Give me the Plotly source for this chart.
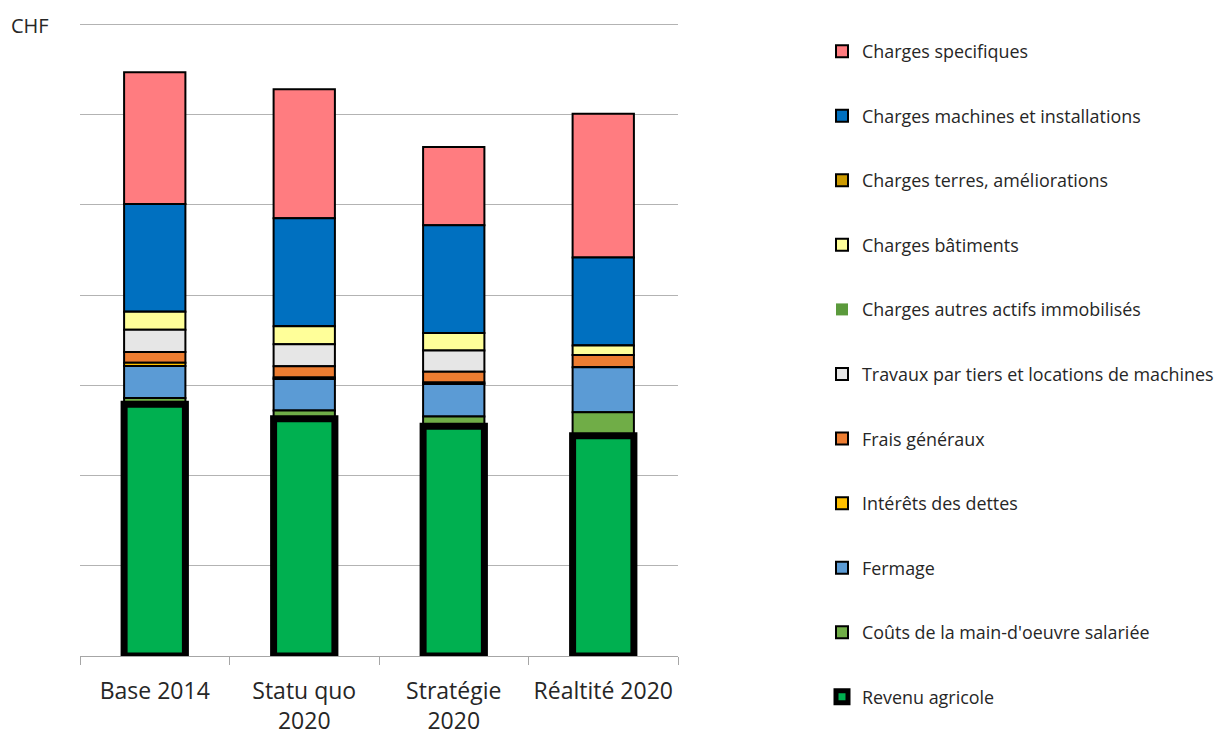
import numpy as np
import plotly.graph_objects as go

# Scenarios (x axis)
categories = ["Base 2014", "Statu quo<br>2020", "Stratégie<br>2020", "Réaltité 2020"]

# Cost components and farm income, in thousand CHF, listed from the bottom of each stack upward
revenu_agricole = [55.8, 52.6, 50.9, 48.8]
main_oeuvre = [1.4, 1.8, 2.2, 5.2]
fermage = [7.1, 7.0, 7.2, 10.0]
interets = [0.7, 0.3, 0.3, 0.0]
frais_generaux = [2.4, 2.5, 2.4, 2.7]
travaux_tiers = [4.9, 4.9, 4.7, 0.0]
autres_actifs = [0.0, 0.0, 0.0, 0.0]
batiments = [4.0, 4.0, 3.9, 2.1]
terres = [0.0, 0.0, 0.0, 0.0]
machines = [23.9, 23.9, 23.9, 19.5]
specifiques = [29.2, 28.6, 17.3, 31.9]

stack = [
    ("Revenu agricole", revenu_agricole, "#00B050"),
    ("Coûts de la main-d'oeuvre salariée", main_oeuvre, "#70AD47"),
    ("Fermage", fermage, "#5B9BD5"),
    ("Intérêts des dettes", interets, "#FFC000"),
    ("Frais généraux", frais_generaux, "#ED7D31"),
    ("Travaux par tiers et locations de machines", travaux_tiers, "#E6E6E6"),
    ("Charges autres actifs immobilisés", autres_actifs, "#5B9A3C"),
    ("Charges bâtiments", batiments, "#FFFF99"),
    ("Charges terres, améliorations", terres, "#CC9A00"),
    ("Charges machines et installations", machines, "#0070C0"),
    ("Charges specifiques", specifiques, "#FF7C80"),
]

values = np.array([s[1] for s in stack], dtype=float)
bases = np.vstack([np.zeros(values.shape[1]), np.cumsum(values, axis=0)[:-1]])

fig = go.Figure()
# Add traces from the top of the stack down so that the legend reads top-down
# and the heavy outline of "Revenu agricole" is drawn last, above its neighbours.
for i in reversed(range(len(stack))):
    name, vals, color = stack[i]
    if name == "Revenu agricole":
        line = dict(color="#000000", width=7)
    elif name == "Charges autres actifs immobilisés":
        line = dict(color=color, width=0)
    else:
        line = dict(color="#000000", width=2)
    fig.add_trace(go.Bar(
        x=categories,
        y=vals,
        base=bases[i],
        name=name,
        legendgroup=name,
        marker=dict(color=color, line=line),
        width=0.41,
        hoverinfo="name+y",
    ))

W = 1216.0
H = 731.0
# The plotting region spans the full figure height (so the long legend is not
# clipped); the y axis domain puts the bars between y=23 px and y=656 px.
fig.update_layout(
    barmode="overlay",
    width=1216,
    height=731,
    margin=dict(l=80, r=538, t=0, b=0),
    paper_bgcolor="white",
    plot_bgcolor="white",
    font=dict(family="Open Sans", color="#404040"),
    legend=dict(
        traceorder="grouped",
        tracegroupgap=38.3,
        xref="container",
        x=822 / W,
        xanchor="left",
        yref="paper",
        y=1.0 - 33 / H,
        yanchor="top",
        font=dict(size=17.9, color="#262626"),
        bgcolor="rgba(0,0,0,0)",
        itemclick=False,
    ),
    xaxis=dict(
        anchor="y",
        showline=True,
        linecolor="#A6A6A6",
        linewidth=1,
        ticks="outside",
        tickson="boundaries",
        ticklen=8,
        tickcolor="#A6A6A6",
        ticklabelstandoff=14,
        tickangle=0,
        automargin=False,
        tickfont=dict(size=23, color="#262626"),
        showgrid=False,
    ),
    yaxis=dict(
        domain=[(H - 656) / H, (H - 23) / H],
        range=[0, 140.3],
        dtick=20,
        showgrid=True,
        gridcolor="#B3B3B3",
        gridwidth=1,
        showticklabels=False,
        zeroline=False,
        showline=False,
        automargin=False,
    ),
    annotations=[
        dict(
            text="CHF",
            xref="paper",
            yref="paper",
            x=(9 - 80) / 598,
            y=1.0 - 26 / H,
            xanchor="left",
            yanchor="middle",
            showarrow=False,
            font=dict(size=20, color="#262626"),
        )
    ],
)

fig.write_html("out.html")
